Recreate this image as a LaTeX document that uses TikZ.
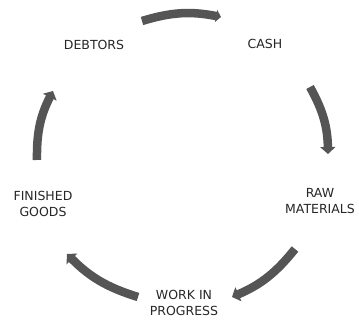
\documentclass[tikz,border=0pt]{standalone}
\usepackage{fontspec}
\setmainfont{DejaVu Sans}
\usetikzlibrary{arrows.meta}
\definecolor{arrowgray}{RGB}{85,85,85}
\begin{document}
\begin{tikzpicture}[x=1pt,y=1pt,
  lbl/.style={font=\fontsize{12.5}{16}\selectfont, align=center, inner sep=0pt, text=black!85},
  cyc/.style={draw=arrowgray, line width=8.5pt, -{Triangle[width=15pt,length=7pt]}, bend left=14}]
\useasboundingbox (0,0) rectangle (359,321);
% labels
\node[lbl] (debtors) at (94,276) {DEBTORS};
\node[lbl] (cash) at (265,277) {CASH};
\node[lbl] (raw) at (320,120) {RAW\\MATERIALS};
\node[lbl] (wip) at (184,18) {WORK IN\\PROGRESS};
\node[lbl] (fg) at (43,117) {FINISHED\\GOODS};
% arrow endpoints
\coordinate (a1) at (142,300); \coordinate (b1) at (221,304);
\coordinate (a2) at (310,234); \coordinate (b2) at (328,167);
\coordinate (a3) at (295,72);  \coordinate (b3) at (232,24);
\coordinate (a4) at (138,24);  \coordinate (b4) at (67,67);
\coordinate (a5) at (37,161);  \coordinate (b5) at (53,230);
\draw[cyc, -{Triangle[width=12pt,length=5pt]}] (a1) to (b1);
\draw[cyc] (a2) to (b2);
\draw[cyc] (a3) to (b3);
\draw[cyc] (a4) to (b4);
\draw[cyc] (a5) to (b5);
\end{tikzpicture}
\end{document}
